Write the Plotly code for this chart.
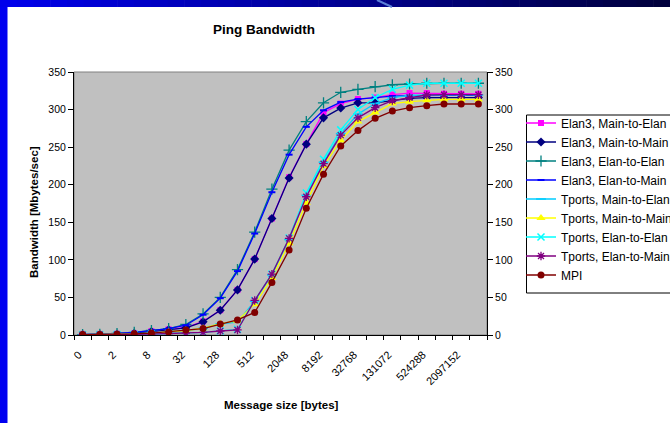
import plotly.graph_objects as go

# ---- data ----
sizes = ["0", "1", "2", "4", "8", "16", "32", "64", "128", "256", "512", "1024",
         "2048", "4096", "8192", "16384", "32768", "65536", "131072", "262144",
         "524288", "1048576", "2097152", "4194304"]

elan3_main_to_elan = [0.5, 0.8, 1.5, 2.5, 5, 7.5, 10, 18, 33, 60, 101, 155, 210, 254,
                      296, 308, 314, 316, 320, 322, 322, 321, 321, 321]
elan3_main_to_main = [0.4, 0.7, 1.3, 2.3, 4.5, 7, 9.5, 17.5, 33, 60, 101, 155, 209, 254,
                      289, 302, 309, 309, 312, 315, 316, 316, 316, 316]
elan3_elan_to_elan = [0.6, 1, 2, 3.5, 6, 8.5, 14, 28, 50, 87, 137, 194, 246, 284,
                      309, 323, 327, 330.5, 333, 334, 335, 335, 335, 335]
elan3_elan_to_main = [0.6, 1, 2, 3.5, 6, 8.5, 13, 27, 49, 85, 135, 190, 240, 277,
                      299, 310, 314, 316, 318, 318.5, 319, 319, 319, 319]
tports_main_to_elan = [0.3, 0.5, 1, 1.5, 2.5, 4, 6, 9, 15, 17, 45, 80, 127, 186,
                       230, 268, 294, 308, 316, 319, 319.5, 319.5, 319.5, 319.5]
tports_main_to_main = [0.3, 0.5, 1, 1.5, 2.5, 4, 6, 9, 15, 19, 41, 76, 122, 176,
                       225, 259, 284, 296, 308, 310.5, 312.5, 313.5, 313.5, 313.5]
tports_elan_to_elan = [0.3, 0.4, 0.6, 0.8, 1.2, 2, 2.5, 3.5, 5.5, 7.5, 46, 81, 129, 189,
                       234, 273, 300, 316, 327, 332.5, 335, 335, 335, 335]
tports_elan_to_main = [0.3, 0.4, 0.6, 0.8, 1.2, 2, 2.5, 3.5, 5.3, 6.7, 46, 81, 128.6, 184,
                       228, 266, 289, 302.5, 312, 316, 319.4, 319.8, 319.8, 319.8]
mpi = [0.5, 0.7, 1, 1.5, 2.5, 4, 6.5, 8.5, 14.6, 20, 30, 70, 113, 168.6,
       214, 251.5, 272, 288.4, 298, 302.5, 305.2, 307.4, 307.4, 307.4]

y_ticks = [0, 50, 100, 150, 200, 250, 300, 350]

# ---- geometry helpers (pixel -> paper) ----
W, H = 670, 423
L, R, T, B = 74, 487, 72, 335
def px(x):
    return (x - L) / (R - L)
def py(y):
    return (B - y) / (B - T)

idx = list(range(len(sizes)))
FONT = "Liberation Sans, Arial, sans-serif"

series = [
    ("Elan3, Main-to-Elan", elan3_main_to_elan, "#ff00ff", dict(symbol="square", size=6)),
    ("Elan3, Main-to-Main", elan3_main_to_main, "#000080", dict(symbol="diamond", size=7)),
    ("Elan3, Elan-to-Elan", elan3_elan_to_elan, "#008080", dict(symbol="cross-thin-open", size=8, line=dict(width=1.3, color="#008080"))),
    ("Elan3, Elan-to-Main", elan3_elan_to_main, "#0000ff", dict(symbol="line-ew-open", size=5, line=dict(width=2, color="#0000ff"))),
    ("Tports, Main-to-Elan", tports_main_to_elan, "#00ccff", dict(symbol="line-ew-open", size=7, line=dict(width=1.5, color="#00ccff"))),
    ("Tports, Main-to-Main", tports_main_to_main, "#ffff00", dict(symbol="triangle-up", size=8)),
    ("Tports, Elan-to-Elan", tports_elan_to_elan, "#00ffff", dict(symbol="x-thin-open", size=7, line=dict(width=1.5, color="#00ffff"))),
    ("Tports, Elan-to-Main", tports_elan_to_main, "#800080", dict(symbol="asterisk-open", size=7, line=dict(width=1.3, color="#800080"))),
    ("MPI", mpi, "#800000", dict(symbol="circle", size=7)),
]

fig = go.Figure()
for name, vals, col, mk in series:
    m = dict(color=col)
    m.update(mk)
    fig.add_trace(go.Scatter(x=idx, y=vals, name=name, mode="lines+markers",
                             line=dict(color=col, width=1.3), marker=m))

# invisible trace to anchor the right axis
fig.add_trace(go.Scatter(x=[idx[0]], y=[0], yaxis="y2", showlegend=False,
                         mode="markers", marker=dict(opacity=0), hoverinfo="skip"))

shapes = []
# blue frame: left strip
shapes.append(dict(type="rect", xref="paper", yref="paper", x0=px(0), x1=px(7.5),
                   y0=py(0), y1=py(H), fillcolor="#0000f0", line=dict(width=0), layer="above"))
# top strip gradient
steps = 40
for k in range(steps):
    x0 = W * k / steps
    x1 = W * (k + 1) / steps + 0.6
    t = k / (steps - 1)
    b = int(round(235 - t * 175))
    shapes.append(dict(type="rect", xref="paper", yref="paper", x0=px(x0), x1=px(x1),
                       y0=py(0), y1=py(7), fillcolor="rgb(0,0,%d)" % b,
                       line=dict(width=0), layer="above"))
shapes.append(dict(type="line", xref="paper", yref="paper", x0=px(377), x1=px(392),
                   y0=py(0), y1=py(7), line=dict(color="#5b7fd8", width=2), layer="above"))
# plot area border
shapes.append(dict(type="rect", xref="paper", yref="paper", x0=0, x1=1, y0=0, y1=1,
                   line=dict(color="#808080", width=1), layer="below"))
# legend frame
shapes.append(dict(type="rect", xref="paper", yref="paper", x0=px(526.5), x1=px(700),
                   y0=py(293), y1=py(115), line=dict(color="black", width=1),
                   fillcolor="rgba(0,0,0,0)", layer="above"))

fig.update_layout(
    width=W, height=H,
    margin=dict(l=L, r=W - R, t=T, b=H - B, autoexpand=False),
    paper_bgcolor="white", plot_bgcolor="#c0c0c0",
    font=dict(family=FONT, color="black", size=11),
    showlegend=True,
    legend=dict(x=px(521), y=py(108.5), xanchor="left", yanchor="top",
                bgcolor="rgba(0,0,0,0)", borderwidth=0,
                font=dict(family=FONT, size=12, color="black"),
                itemwidth=30),
    xaxis=dict(range=[-0.5, len(sizes) - 0.5], tickmode="array",
               tickvals=idx[::2], ticktext=sizes[::2], tickangle=-45,
               ticks="", showgrid=False, zeroline=False,
               showline=True, linecolor="black", linewidth=1,
               tickfont=dict(size=11), ticklabelstandoff=8, ticklabelshift=-4,
               minor=dict(tick0=-0.5, dtick=1, ticks="outside", ticklen=4,
                          tickcolor="black", showgrid=False)),
    yaxis=dict(range=[0, 350], tickmode="array", tickvals=y_ticks, ticks="outside",
               ticklen=5, tickcolor="black", showgrid=False, zeroline=False,
               showline=True, linecolor="black", linewidth=1, tickfont=dict(size=10.5)),
    yaxis2=dict(range=[0, 350], overlaying="y", side="right", tickmode="array",
                tickvals=y_ticks, ticks="outside", ticklen=5, tickcolor="black",
                showgrid=False, zeroline=False, showline=True, linecolor="black",
                linewidth=1, tickfont=dict(size=10.5)),
    shapes=shapes,
    annotations=[
        dict(text="<b>Ping Bandwidth</b>", xref="paper", yref="paper", x=px(264), y=py(29),
             xanchor="center", yanchor="middle",
             showarrow=False, font=dict(size=13.5, family=FONT)),
        dict(text="<b>Message size [bytes]</b>", xref="paper", yref="paper", x=px(281), y=py(405),
             xanchor="center", yanchor="middle",
             showarrow=False, font=dict(size=11.5, family=FONT)),
        dict(text="<b>Bandwidth [Mbytes/sec]</b>", xref="paper", yref="paper", x=px(34), y=py(212),
             xanchor="center", yanchor="middle",
             showarrow=False, textangle=-90, font=dict(size=11.5, family=FONT)),
    ],
)

fig.write_html("out.html")
